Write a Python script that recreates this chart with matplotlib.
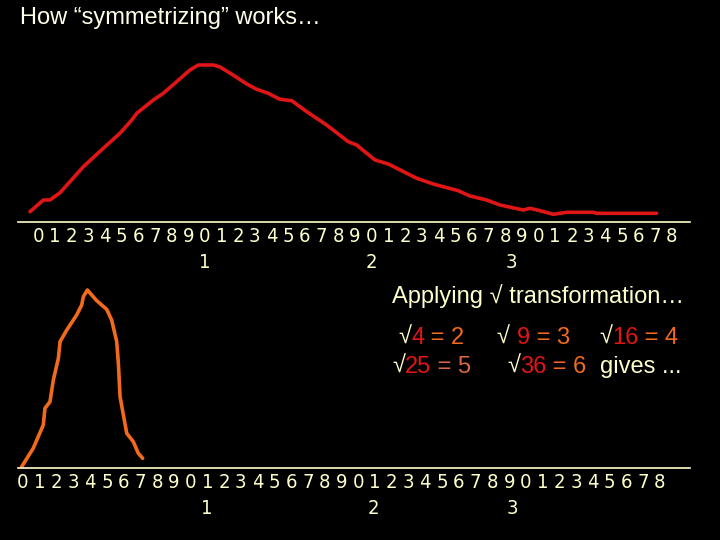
import numpy as np
import matplotlib
matplotlib.use("Agg")
import matplotlib.pyplot as plt

# ---------------- data (x in digit-units along the axis, y = height above axis) ----------------
digits = [str(i % 10) for i in range(39)]

raw_x = [-0.48, 0.32, 0.72, 1.32, 2.72, 4.02, 4.91, 5.62, 5.92, 6.91, 7.51, 8.31, 9.11,
         9.61, 10.51, 10.91, 11.69, 12.51, 13.11, 13.80, 14.50, 15.21, 16.11, 17.30,
         18.60, 19.10, 20.20, 21.00, 22.70, 23.69, 25.19, 25.89, 26.89, 27.69, 29.09,
         29.49, 30.09, 30.89, 31.69, 33.28, 33.49, 37.08]
raw_y = [10.3, 22, 22, 29.3, 55.3, 75.3, 88.7, 102, 108.7, 122, 128.7, 140.3, 152,
         157, 157, 155, 147, 138, 132.7, 128.7, 122.7, 121.3, 110.3, 97,
         80.3, 77, 62, 58, 43.7, 38, 31.3, 26, 22, 17, 12,
         13.7, 11.3, 7.7, 9.7, 9.7, 8.7, 8.7]

sqrt_x = [-0.08, 0.61, 1.21, 1.31, 1.61, 1.81, 2.11, 2.21, 2.61, 3.20, 3.50, 3.60, 3.84,
          4.10, 4.40, 4.99, 5.29, 5.59, 5.69, 5.79, 6.08, 6.19, 6.58, 6.88, 7.14]
sqrt_y = [1.3, 19.7, 43, 59.7, 66.3, 88, 109.7, 126.3, 138, 153, 163, 171.3, 178,
          173, 167.3, 158.7, 148, 126.3, 104.7, 71.3, 44.7, 34.7, 26.3, 14.7, 9.7]

top_tens_pos = [10.0, 20.0, 28.4]
bot_tens_pos = [10.98, 20.88, 29.17]
tens_labels = ["1", "2", "3"]

CREAM = "#FFFFCC"
RED = "#E01515"
ORANGE = "#F26A1B"
BROWN = "#D96B3C"

W, H = 720, 540
fig = plt.figure(figsize=(7.2, 5.4), dpi=100, facecolor="black")


def px_axes(left, top, right, bottom):
    return fig.add_axes([left / W, 1 - bottom / H, (right - left) / W, (bottom - top) / H])


def setup_axis(ax, x0_px, unit_px, height_px, tens_pos):
    ax.set_facecolor("black")
    for s in ["top", "left", "right"]:
        ax.spines[s].set_visible(False)
    ax.spines["bottom"].set_color(CREAM)
    ax.spines["bottom"].set_linewidth(1.2)
    xmin = -(x0_px - 18) / unit_px
    ax.set_xlim(xmin, xmin + 672 / unit_px)
    ax.set_ylim(0, height_px)
    ax.set_yticks([])
    ax.xaxis.remove_overlapping_locs = False
    ax.set_xticks(range(39))
    ax.set_xticklabels(digits)
    ax.set_xticks(tens_pos, minor=True)
    ax.set_xticklabels(tens_labels, minor=True)
    ax.tick_params(axis="x", which="major", length=0, pad=3.5, labelsize=14.5,
                   labelcolor=CREAM)
    ax.tick_params(axis="x", which="minor", length=0, pad=22, labelsize=14.5,
                   labelcolor=CREAM)
    for lab in ax.get_xticklabels(which="both"):
        lab.set_family("DejaVu Sans")
        lab.set_stretch("condensed")


# top: raw (skewed) distribution
ax_top = px_axes(18, 50, 690, 222)
setup_axis(ax_top, 38, 16.684, 172, top_tens_pos)
ax_top.plot(raw_x, raw_y, color=RED, lw=2.6, solid_capstyle="round")

# bottom: after sqrt transform
ax_bot = px_axes(18, 280, 690, 468)
setup_axis(ax_bot, 23, 16.763, 188, bot_tens_pos)
ax_bot.plot(sqrt_x, sqrt_y, color=ORANGE, lw=2.6, solid_capstyle="round")

FONT = ["Liberation Sans", "DejaVu Sans"]
renderer = fig.canvas.get_renderer()


def ptext(x, y, s, color=CREAM, size=17):
    return fig.text(x / W, 1 - y / H, s, color=color, fontsize=size, family=FONT,
                    ha="left", va="center")


def pieces(x, y, parts, size=17):
    # draw coloured pieces one after another on the same line
    for s, c in parts:
        t = ptext(x, y, s, c, size)
        x = t.get_window_extent(renderer).x1


ptext(20, 18, "How \u201csymmetrizing\u201d works\u2026", color="#FFFFE8", size=17)
ptext(392, 296, "Applying \u221a transformation\u2026", size=17)

# row 1
pieces(398, 338, [("\u221a", CREAM), ("4", RED), (" = 2", ORANGE)])
pieces(497, 338, [("\u221a ", CREAM), ("9", RED), (" = 3", ORANGE)])
pieces(599, 338, [("\u221a", CREAM), ("16", RED), (" = 4", ORANGE)])
# row 2
pieces(392, 367, [("\u221a", CREAM), ("25", RED), (" = 5", BROWN)])
pieces(507, 367, [("\u221a", CREAM), ("36", RED), (" = 6", ORANGE)])
ptext(600, 367, "gives ...")

fig.savefig("out.png", dpi=100, facecolor="black")
